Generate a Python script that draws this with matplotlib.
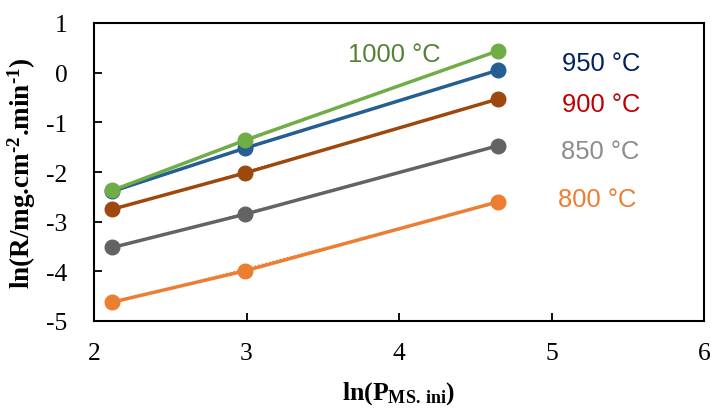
import matplotlib
matplotlib.use("Agg")
import matplotlib.pyplot as plt
import numpy as np

plt.rcParams['font.family'] = ['Liberation Serif', 'DejaVu Serif']
plt.rcParams['axes.unicode_minus'] = False
plt.rcParams['mathtext.fontset'] = 'custom'
plt.rcParams['mathtext.rm'] = 'Liberation Serif:bold'
plt.rcParams['mathtext.bf'] = 'Liberation Serif:bold'
plt.rcParams['mathtext.it'] = 'Liberation Serif:bold'

# ln(P_MS,ini)
x_vals = [2.12, 2.99, 4.65]

# ln(R) per temperature
temps = ['800 °C', '850 °C', '900 °C', '950 °C', '1000 °C']
y_800 = [-4.62, -3.99, -2.60]
y_850 = [-3.52, -2.85, -1.47]
y_900 = [-2.75, -2.02, -0.53]
y_950 = [-2.39, -1.52, 0.05]
y_1000 = [-2.37, -1.36, 0.44]
series = [y_800, y_850, y_900, y_950, y_1000]

line_colors = ['#ED7D31', '#636363', '#9E480E', '#255E91', '#70AD47']
text_colors = ['#ED7D31', '#8C8C8C', '#C00000', '#002060', '#548235']
label_pos = [(597, -2.55), (600, -1.58), (601, -0.63), (601, 0.195), (394, 0.38)]

fig = plt.figure(figsize=(7.11, 4.10), dpi=100)
ax = fig.add_axes([94/711, 1-322/410, 610/711, 298/410])

for ys, c in zip(series, line_colors):
    ax.plot(x_vals, ys, color=c, lw=2.5, marker='o', ms=10.5, zorder=3)
    k, b = np.polyfit(x_vals, ys, 1)
    xx = np.array([x_vals[0], x_vals[-1]])
    ax.plot(xx, k*xx + b, color=c, lw=1, ls=':', zorder=2)

for t, c, (px, yv) in zip(temps, text_colors, label_pos):
    xv = 2 + (px - 94) / 152.5
    ax.text(xv, yv, t, color=c, fontsize=18.4, family='Liberation Sans',
            ha='center', va='center')

ax.set_xlim(2, 6)
ax.set_ylim(-5, 1)
ax.set_xticks([2, 3, 4, 5, 6])
ax.set_yticks([-5, -4, -3, -2, -1, 0, 1])
ax.tick_params(direction='in', length=6, width=1.3, labelsize=18.4)
ax.tick_params(axis='x', pad=15)
ax.tick_params(axis='y', pad=19)
for s in ax.spines.values():
    s.set_linewidth(1.5)

ax.set_xlabel(r'ln(P$_{\mathrm{MS.\,ini}}$)', fontsize=18.5, fontweight='bold', labelpad=11)
ax.set_ylabel('ln(R/mg.cm$^{\u20102}$.min$^{\u20101}$)', fontsize=19.5, fontweight='bold', labelpad=6)

fig.savefig('out.png', dpi=100)
